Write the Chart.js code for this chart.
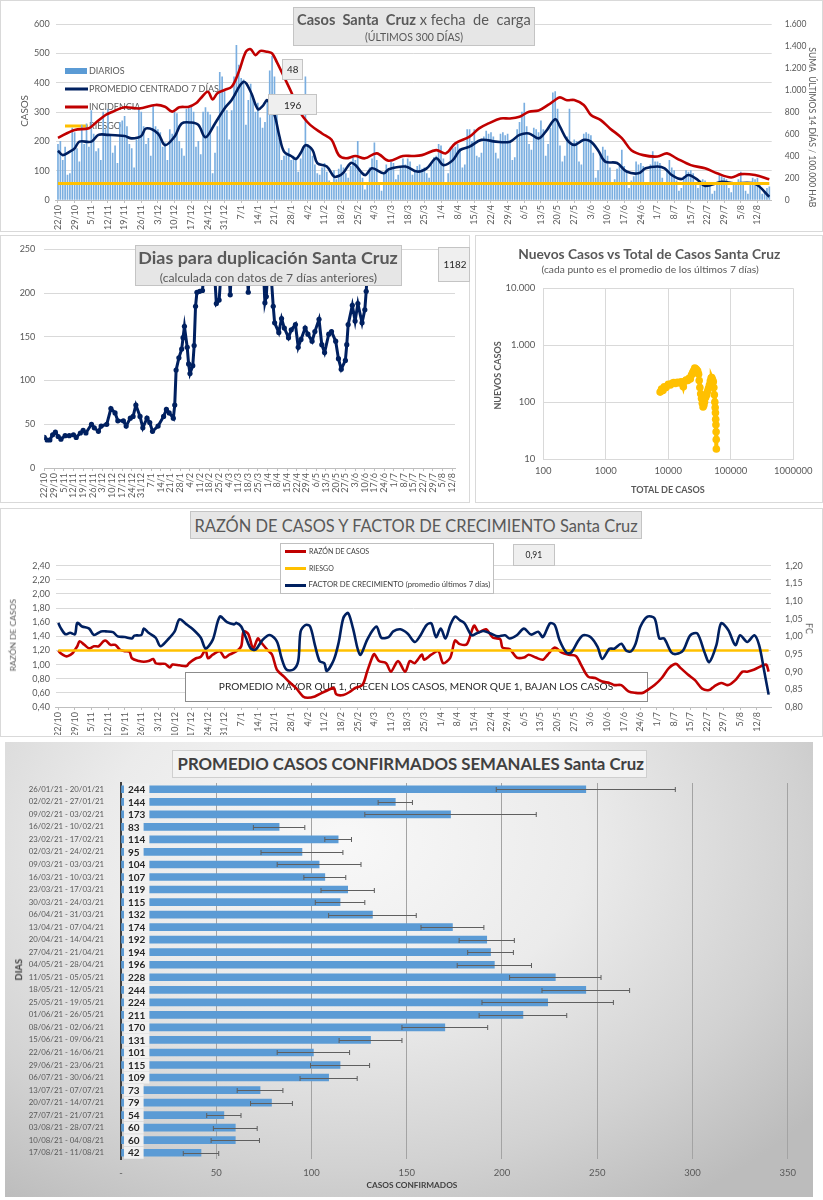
<!DOCTYPE html>
<html lang="es">
<head>
<meta charset="utf-8">
<title>Casos Santa Cruz</title>
<script src="https://cdn.jsdelivr.net/npm/chart.js@4.4.1/dist/chart.umd.min.js"></script>
<style>
  body { margin: 0; background: #fff; font-family: Lato, "Open Sans", sans-serif; width: 823px; height: 1200px; position: relative; overflow: hidden; }
  .panel { position: absolute; outline: 1px solid #d9d9d9; outline-offset: -1px; }
  .box { position: absolute; box-sizing: border-box; background: #e6e6e6; border: 1px solid #c4c4c4; }
  .txt { position: absolute; white-space: nowrap; color: #595959; line-height: 1; font-size: 12px; }
  .sw { position: absolute; height: 3px; }
</style>
</head>
<body>

<div class="panel" id="p1" style="left:0;top:0;width:823px;height:232px">
  <canvas id="c1"></canvas>
  <div class="box" style="left:293px;top:7px;width:242px;height:39px"></div>
  <div class="txt" data-cx="414" data-cy="20" data-w="234" style="font-size:17px"><b>Casos&nbsp; Santa&nbsp; Cruz</b> x fecha&nbsp; de&nbsp; carga</div>
  <div class="txt" data-cx="414" data-cy="37.5" data-w="98">(ÚLTIMOS 300 DÍAS)</div>
  <div class="box" style="left:282px;top:59px;width:21px;height:21px;background:#efefef"></div>
  <div class="txt" data-cx="292.5" data-cy="70" data-w="11.5" style="color:#262626">48</div>
  <div class="box" style="left:268px;top:94px;width:49px;height:21px;background:#efefef"></div>
  <div class="txt" data-cx="292.5" data-cy="105" data-w="17.5" style="color:#262626">196</div>
  <div class="txt" data-cx="25" data-cy="111" data-w="32" data-rot="-90">CASOS</div>
  <div class="txt" data-cx="812" data-cy="127" data-w="160" data-rot="90">SUMA&nbsp; ÚLTIMOS 14 DÍAS / 100.000 HAB</div>
</div>

<div class="panel" id="p2" style="left:0;top:235px;width:470px;height:268px">
  <canvas id="c2"></canvas>
  <div class="box" style="left:135px;top:10px;width:267px;height:41px"></div>
  <div class="txt" data-cx="268.3" data-cy="23" data-w="260" style="font-weight:bold">Dias para duplicación Santa Cruz</div>
  <div class="txt" data-cx="268.3" data-cy="43" data-w="217">(calculada con datos de 7 días anteriores)</div>
  <div class="box" style="left:438px;top:12px;width:32px;height:35px;background:#efefef"></div>
  <div class="txt" data-cx="455" data-cy="30" data-w="23" style="color:#262626">1182</div>
</div>

<div class="panel" id="p3" style="left:475px;top:235px;width:348px;height:268px">
  <canvas id="c3"></canvas>
  <div class="txt" data-cx="174.2" data-cy="19" data-w="262" style="font-weight:bold">Nuevos Casos vs Total de Casos Santa Cruz</div>
  <div class="txt" data-cx="175" data-cy="34" data-w="217">(cada punto es el promedio de los últimos 7 días)</div>
  <div class="txt" data-cx="193" data-cy="254" data-w="74" style="font-weight:bold">TOTAL DE CASOS</div>
  <div class="txt" data-cx="22.5" data-cy="140" data-w="68" data-rot="-90" style="font-weight:bold">NUEVOS CASOS</div>
</div>

<div class="panel" id="p4" style="left:0;top:508px;width:823px;height:229px">
  <canvas id="c4"></canvas>
  <div class="box" style="left:190px;top:3px;width:452px;height:28px"></div>
  <div class="txt" data-cx="416" data-cy="18" data-w="444">RAZÓN DE CASOS Y FACTOR DE CRECIMIENTO Santa Cruz</div>
  <div class="box" style="left:280px;top:35px;width:214px;height:51px;background:#fff;border-color:#bfbfbf"></div>
  <div class="sw" style="left:285px;top:41.5px;width:21px;background:#C00000"></div>
  <div class="txt" data-cx="339" data-cy="43" data-w="60" style="color:#404040">RAZÓN DE CASOS</div>
  <div class="sw" style="left:285px;top:58.5px;width:21px;background:#FFC000"></div>
  <div class="txt" data-cx="321.5" data-cy="60" data-w="25" style="color:#404040">RIESGO</div>
  <div class="sw" style="left:285px;top:75.5px;width:21px;background:#002060"></div>
  <div class="txt" data-cx="399.5" data-cy="77" data-w="182" style="color:#404040">FACTOR DE CRECIMIENTO (promedio últimos 7 días)</div>
  <div class="box" style="left:513px;top:36px;width:42px;height:22px;background:#efefef"></div>
  <div class="txt" data-cx="534" data-cy="47" data-w="17" style="color:#262626">0,91</div>
  <div class="txt" data-cx="12.5" data-cy="127" data-w="72" data-rot="-90">RAZÓN DE CASOS</div>
  <div class="txt" data-cx="808" data-cy="120" data-w="11" data-rot="90">FC</div>
</div>

<div class="panel" id="p5" style="left:5px;top:742px;width:808px;height:455px;outline:none;background:radial-gradient(ellipse 75% 95% at 42% 22%, #f8f8f8 0%, #ebebeb 40%, #d2d2d2 75%, #bcbcbc 100%)">
  <canvas id="c5"></canvas>
  <div class="box" style="left:167px;top:8px;width:475px;height:28px;background:#f3f3f3;border-color:#cfcfcf"></div>
  <div class="txt" data-cx="405.5" data-cy="22" data-w="467" style="font-weight:bold;color:#404040">PROMEDIO CASOS CONFIRMADOS SEMANALES Santa Cruz</div>
  <div class="txt" data-cx="407" data-cy="443" data-w="91" style="font-weight:bold;color:#404040">CASOS CONFIRMADOS</div>
  <div class="txt" data-cx="13.8" data-cy="227" data-w="22" data-rot="-90" style="font-weight:bold;color:#404040">DIAS</div>
</div>

<script>
// etiquetas semanales del eje de fechas (22/10/2020 a 12/08/2021)
const semanas = ['22/10','29/10','5/11','12/11','19/11','26/11','3/12','10/12','17/12','24/12','31/12','7/1','14/1','21/1','28/1','4/2','11/2','18/2','25/2','4/3','11/3','18/3','25/3','1/4','8/4','15/4','22/4','29/4','6/5','13/5','20/5','27/5','3/6','10/6','17/6','24/6','1/7','8/7','15/7','22/7','29/7','5/8','12/8'];

// casos diarios (un valor por dia desde 22/10)
const diarios = [
  190,200,135,180,85,90,245, 230,175,130,255,190,260,180, 305,225,165,175,135,300,240,
  310,220,160,185,125,265,270, 285,250,190,175,110,205,310, 300,250,190,210,150,320,250,
  240,230,180,195,135,240,225, 300,295,200,175,150,310,315, 320,300,180,200,155,300,315,
  300,290,90,160,250,435,420, 370,305,205,305,420,527,460, 415,410,255,340,395,350,300,
  330,280,245,265,340,440,490, 420,300,210,135,150,160,175, 135,150,145,95,140,180,420,
  190,180,150,120,90,85,110, 125,95,65,50,100,70,105, 120,110,90,75,115,145,135,
  200,90,75,35,60,110,140, 195,135,60,30,90,120,105, 130,125,70,85,110,140,120,
  140,130,85,100,115,120,105, 110,90,75,120,145,150,190, 185,140,60,90,180,175,180,
  190,175,110,120,240,240,200, 240,150,145,160,215,235,225, 230,215,160,140,225,230,220,
  225,200,135,145,240,265,300, 330,250,190,170,245,240,230, 270,240,150,190,245,365,370,
  310,185,130,150,215,310,190, 205,200,130,120,225,230,225, 220,160,75,100,160,180,170,
  150,110,55,70,105,115,170, 115,95,40,65,80,130,120, 125,115,55,60,120,165,130,
  130,125,75,60,100,135,110, 100,65,30,40,80,100,95, 100,90,55,40,65,70,65,
  55,50,20,30,60,85,80, 75,70,40,25,55,60,70, 95,60,30,20,55,75,70, 75,60,20,25,40,45
];

// promedio centrado 7 dias (dia, valor)
const promDia  = [0,2,5,7,9,14,17,21,28,31,35,37,42,45,49,52,56,59,62,66,70,73,78,81,84,86,88,91,93,95,98,100,102,104,107,109,113,116,118,120,123,125,129,132,137,139,146,151,155,159,162,166,169,173,178,184,190,194,198,202,205,209,211,214,217,221,224,227,230,235,239,244,247,252,255,258,262,265,269,272,279,284,293,299];
const promedio = [168,153,165,176,199,199,222,222,218,210,218,244,227,187,216,261,264,256,214,261,312,341,403,369,310,320,340,290,220,165,150,140,160,187,170,126,114,80,82,93,126,119,85,108,91,105,114,97,108,142,119,136,170,182,205,199,199,222,227,210,233,275,250,205,188,205,199,170,131,126,97,91,108,114,108,85,71,85,68,48,62,57,55,11];

// incidencia: suma ultimos 14 dias / 100.000 hab (eje derecho)
const incDia     = [0,7,13,16,20,23,28,34,41,45,48,51,55,58,60,63,65,67,70,73,76,79,81,83,85,88,90,92,95,98,101,103,106,111,115,118,121,125,129,134,139,145,149,153,159,163,167,173,177,181,186,190,194,198,202,206,209,211,214,217,221,224,228,232,237,241,246,252,256,260,266,272,277,283,287,293,299];
const incidencia = [565,637,653,704,773,803,843,832,864,848,803,843,848,880,925,984,915,971,1000,1029,1165,1349,1371,1317,1355,1347,1333,1253,1120,984,827,757,683,605,547,408,379,400,379,424,357,400,400,408,453,424,515,576,651,696,741,741,757,803,813,864,909,933,907,909,864,773,728,651,563,453,408,395,424,379,317,288,243,205,235,227,189];
const riesgoIncidencia = 150;

// dias para duplicacion
const dupDia = [0,2,4,6,8,10,12,15,18,21,23,26,28,30,34,36,39,41,45,48,51,53,57,59,62,64,66,69,71,74,76,78,82,86,88,90,93,94,95,97,99,100,101,103,104,105,107,108,109,110,112,114,117,121,124,126,129,132,134,136,140,145,147,149,153,157,159,160,162,165,166,169,171,173,176,178,181,183,185,188,190,193,195,198,200,202,205,207,210,212,214,217,218,219,222,224,226,229,231,232,234];
const dupVal = [35,32,32,38,41,36,33,37,37,38,35,40,43,40,50,46,42,48,50,68,63,54,54,48,57,59,72,59,46,57,52,42,48,59,67,63,57,72,112,126,136,149,162,138,119,108,117,140,185,201,202,203,260,270,188,192,260,255,198,265,280,260,201,262,275,258,189,196,255,185,166,155,171,160,149,158,164,138,147,160,153,145,156,170,141,132,153,156,145,125,113,123,141,164,186,168,188,166,181,202,260];

// nuevos casos vs total de casos (promedio 7 dias)
const totalCasos  = [7400,7800,8200,8600,9200,10000,10800,11500,12200,13000,14000,15000,16000,16800,17400,18200,19200,20500,21500,22500,23500,24500,25500,26500,27500,28500,29500,30500,31200,32000,33000,34000,35000,36000,37000,38000,39500,41000,42500,44000,45500,47000,48500,49500,51000,52500,53500,54500,55500,56200,56800,57300,57800,58200,58500,58700];
const nuevosCasos = [150,170,160,185,180,205,200,215,220,212,222,218,228,215,187,230,245,240,262,255,300,330,360,395,385,370,350,310,240,180,140,116,95,82,88,100,120,133,155,175,200,235,265,270,250,228,180,135,100,80,65,50,40,30,22,15];
const ticksTotal  = [100, 1000, 10000, 100000, 1000000];
const ticksNuevos = [10, 100, 1000, 10000];

// razon de casos (eje izq.) y factor de crecimiento (eje der.)
const rcDia = [0,1,3,4,6,7,8,9,11,13,15,17,19,20,22,24,26,28,30,31,34,36,38,40,41,43,45,47,48,51,54,55,58,60,62,63,65,68,70,72,75,77,78,80,82,84,85,88,90,92,95,97,100,103,105,108,111,113,116,117,120,123,125,128,130,132,133,135,138,140,143,146,148,150,153,154,157,160,162,165,167,169,172,175,177,180,183,186,187,190,193,196,198,201,204,206,209,212,215,218,220,223,226,229,232,234,237,240,243,246,248,251,254,257,260,262,265,268,271,274,276,279,282,285,288,290,293,296,298,299];
const razonCasos = [1.20,1.16,1.12,1.12,1.16,1.21,1.26,1.33,1.28,1.23,1.26,1.26,1.33,1.34,1.28,1.28,1.21,1.19,1.18,1.09,1.05,1.04,1.05,1.08,1.02,1.01,1.01,0.96,1.00,0.99,0.98,1.02,1.09,1.11,1.21,1.09,1.14,1.19,1.10,1.14,1.19,1.26,1.47,1.43,1.23,1.37,1.33,1.21,1.14,0.93,0.83,0.76,0.67,0.55,0.53,0.55,0.60,0.63,0.67,0.58,0.57,0.62,0.67,0.71,0.90,1.09,1.15,1.05,1.02,0.90,1.05,0.90,1.05,1.02,1.14,1.07,1.14,1.19,1.02,1.10,1.34,1.29,1.29,1.55,1.46,1.50,1.38,1.36,1.24,1.22,1.10,1.10,1.14,1.10,1.07,1.14,1.24,1.17,1.14,1.12,1.00,0.83,0.81,0.76,0.74,0.71,0.71,0.62,0.60,0.60,0.64,0.71,0.81,0.95,1.01,0.95,0.86,0.78,0.66,0.64,0.69,0.74,0.71,0.78,0.90,0.90,0.93,0.98,1.00,0.90];
const fcDia = [0,1,3,5,7,8,10,13,15,18,20,23,25,28,31,32,35,36,38,41,43,46,49,51,54,57,60,62,65,68,71,74,75,77,79,81,83,86,89,92,94,96,99,101,102,104,106,108,110,112,113,116,118,120,122,124,127,130,132,134,136,139,141,144,147,150,152,155,157,159,161,163,165,167,169,171,174,176,179,182,185,188,190,193,196,199,202,204,207,209,211,214,216,219,221,224,227,229,232,234,237,239,241,243,245,248,251,253,255,258,260,263,266,269,272,274,277,279,282,285,287,290,293,295,297,299];
const factorCrec = [1.038,1.024,1.006,1.010,1.006,1.038,1.028,1.022,1.004,1.014,1.014,1.012,1.000,0.998,0.994,1.002,1.004,1.022,1.010,0.996,0.972,0.990,1.014,1.048,1.034,1.018,0.996,0.966,0.990,1.056,1.040,1.034,1.038,1.028,0.996,0.966,0.962,0.990,1.004,0.986,0.938,0.906,0.906,0.930,1.014,1.032,1.028,0.976,0.930,0.924,0.902,0.934,0.982,1.052,1.066,1.024,0.948,0.990,1.014,1.028,0.996,0.998,1.014,1.020,1.008,0.984,0.998,1.032,1.037,0.998,1.022,0.994,1.032,1.056,1.046,1.037,1.003,1.008,1.015,1.008,1.000,1.003,0.994,1.003,1.022,1.005,1.013,0.998,1.037,1.032,0.989,0.953,0.955,0.989,1.003,0.998,0.970,0.936,0.965,0.965,0.979,0.960,0.957,0.979,1.027,1.056,1.051,0.994,0.994,0.955,0.950,0.960,1.003,1.008,0.955,0.927,0.975,1.037,1.018,0.975,1.003,0.984,1.003,0.975,0.907,0.835];
const riesgoRazon = 1.20;
const ticksRazon = [0.4,0.6,0.8,1.0,1.2,1.4,1.6,1.8,2.0,2.2,2.4];
const ticksFC = [0.80,0.85,0.90,0.95,1.00,1.05,1.10,1.15,1.20];

// promedio semanal de casos confirmados y su desvio
const semanasConf = ['26/01/21 - 20/01/21','02/02/21 - 27/01/21','09/02/21 - 03/02/21','16/02/21 - 10/02/21','23/02/21 - 17/02/21','02/03/21 - 24/02/21','09/03/21 - 03/03/21','16/03/21 - 10/03/21','23/03/21 - 17/03/21','30/03/21 - 24/03/21','06/04/21 - 31/03/21','13/04/21 - 07/04/21','20/04/21 - 14/04/21','27/04/21 - 21/04/21','04/05/21 - 28/04/21','11/05/21 - 05/05/21','18/05/21 - 12/05/21','25/05/21 - 19/05/21','01/06/21 - 26/05/21','08/06/21 - 02/06/21','15/06/21 - 09/06/21','22/06/21 - 16/06/21','29/06/21 - 23/06/21','06/07/21 - 30/06/21','13/07/21 - 07/07/21','20/07/21 - 14/07/21','27/07/21 - 21/07/21','03/08/21 - 28/07/21','10/08/21 - 04/08/21','17/08/21 - 11/08/21'];
const promSemanal = [244,144,173,83,114,95,104,107,119,115,132,174,192,194,196,228,244,224,211,170,131,101,115,109,73,79,54,60,60,42];
const desvio = [47,9,45,13.5,7,21.5,22,11,14,13,23,16.5,14.5,12,19.5,24,23,34.5,23,22.5,16.5,19,15.5,15,12,11,9,11.5,12.7,9.3];

Chart.defaults.font.family = 'Lato, "Open Sans", sans-serif';
Chart.defaults.color = '#595959';
Chart.defaults.animation = false;
Chart.defaults.plugins.legend.display = false;
Chart.defaults.plugins.tooltip.enabled = false;

const miles = v => String(v).replace(/\B(?=(\d{3})+(?!\d))/g, '.');
const coma = v => Number(v).toFixed(2).replace('.', ',');
const puntos = (xs, ys) => xs.map((x, i) => ({ x: x, y: ys[i] }));
const ultimoDia = diarios.length - 1;

function ejeFechas(min, max, alto) {
  return {
    type: 'linear', min: min, max: max, offset: false,
    afterBuildTicks: s => { s.ticks = semanas.map((_, i) => ({ value: i * 7 })); },
    afterFit: s => { s.height = alto; },
    ticks: { autoSkip: false, maxRotation: 90, minRotation: 90, padding: 2, font: { size: 9 }, callback: v => semanas[Math.round(v / 7)] },
    grid: { drawOnChartArea: false, color: '#bfbfbf', tickLength: 3, offset: false },
    border: { color: '#bfbfbf' }
  };
}

// leyenda dentro del area del grafico, por debajo de las lineas
const leyendaCasos = {
  id: 'leyendaCasos',
  beforeDatasetsDraw(chart) {
    const ctx = chart.ctx;
    const items = [
      ['DIARIOS', '#5B9BD5', 71, true],
      ['PROMEDIO CENTRADO 7 DÍAS', '#002060', 89],
      ['INCIDENCIA', '#C00000', 107],
      ['RIESGO', '#FFC000', 126]
    ];
    ctx.save();
    ctx.font = '9px Lato';
    ctx.textBaseline = 'middle';
    items.forEach(([txt, col, y, barra]) => {
      ctx.fillStyle = col;
      if (barra) ctx.fillRect(65, y - 3, 22, 6);
      else ctx.fillRect(65, y - 1.5, 23, 3);
      ctx.fillStyle = '#595959';
      ctx.fillText(txt, 89, y);
    });
    ctx.restore();
  }
};

new Chart(document.getElementById('c1'), {
  type: 'bar',
  data: {
    datasets: [
      { type: 'bar', label: 'DIARIOS', data: diarios.map((v, d) => ({ x: d, y: v })), backgroundColor: '#7aaee0', barThickness: 1, yAxisID: 'y', order: 4 },
      { type: 'line', label: 'PROMEDIO CENTRADO 7 DÍAS', data: puntos(promDia, promedio), borderColor: '#002060', borderWidth: 2.6, pointRadius: 0, tension: 0.35, yAxisID: 'y', order: 3 },
      { type: 'line', label: 'INCIDENCIA', data: puntos(incDia, incidencia), borderColor: '#C00000', borderWidth: 2.6, pointRadius: 0, tension: 0.35, yAxisID: 'y2', order: 2 },
      { type: 'line', label: 'RIESGO', data: [{ x: 0, y: riesgoIncidencia }, { x: ultimoDia, y: riesgoIncidencia }], borderColor: '#FFC000', borderWidth: 3, pointRadius: 0, yAxisID: 'y2', order: 1 }
    ]
  },
  options: {
    responsive: true, maintainAspectRatio: false,
    layout: { padding: { left: 12, right: 4, top: 24, bottom: 2 } },
    scales: {
      x: ejeFechas(-1, 300, 30),
      y: { min: 0, max: 600, afterFit: s => { s.width = 43.6; }, ticks: { stepSize: 100, padding: 6, font: { size: 9 } }, grid: { color: '#d9d9d9', drawTicks: false }, border: { display: false } },
      y2: { position: 'right', min: 0, max: 1600, afterFit: s => { s.width = 47.3; }, ticks: { stepSize: 200, padding: 5, font: { size: 8.5 }, callback: miles }, grid: { display: false }, border: { display: false } }
    }
  },
  plugins: [leyendaCasos]
});

new Chart(document.getElementById('c2'), {
  type: 'line',
  data: { datasets: [{ data: puntos(dupDia, dupVal), borderColor: '#002060', backgroundColor: '#002060', borderWidth: 3, pointRadius: 2.6, pointBorderWidth: 0, tension: 0 }] },
  options: {
    responsive: true, maintainAspectRatio: false,
    layout: { padding: { left: 0, right: 15, top: 10, bottom: 2 } },
    scales: {
      x: ejeFechas(0, 296, 33),
      y: { min: 0, max: 250, afterFit: s => { s.width = 44.3; }, ticks: { stepSize: 50, padding: 9, font: { size: 9 } }, grid: { color: '#d9d9d9', drawTicks: false }, border: { display: false } }
    }
  }
});

new Chart(document.getElementById('c3'), {
  type: 'scatter',
  data: { datasets: [{ data: puntos(totalCasos, nuevosCasos), backgroundColor: '#FFC000', borderColor: '#FFC000', pointRadius: 3.8, pointBorderWidth: 0, showLine: true, borderWidth: 4 }] },
  options: {
    responsive: true, maintainAspectRatio: false,
    layout: { padding: { left: 14, right: 29.7, top: 53.3, bottom: 9 } },
    scales: {
      x: { type: 'logarithmic', min: 100, max: 1000000, afterBuildTicks: s => { s.ticks = ticksTotal.map(v => ({ value: v })); }, afterFit: s => { s.height = 35; },
           ticks: { autoSkip: false, maxRotation: 0, padding: 6, font: { size: 9.5 }, callback: v => String(v) }, grid: { color: '#d9d9d9', drawTicks: false }, border: { color: '#d9d9d9' } },
      y: { type: 'logarithmic', min: 10, max: 10000, afterBuildTicks: s => { s.ticks = ticksNuevos.map(v => ({ value: v })); }, afterFit: s => { s.width = 54.3; },
           ticks: { autoSkip: false, padding: 8, font: { size: 9.5 }, callback: miles }, grid: { color: '#d9d9d9', drawTicks: false }, border: { color: '#d9d9d9' } }
    }
  }
});

// recuadro de texto por debajo de las lineas
const cajaPromedio = {
  id: 'cajaPromedio',
  beforeDatasetsDraw(chart) {
    const ctx = chart.ctx;
    const txt = 'PROMEDIO MAYOR QUE 1, CRECEN LOS CASOS, MENOR QUE 1, BAJAN LOS CASOS';
    ctx.save();
    ctx.fillStyle = '#fff';
    ctx.fillRect(185, 164, 462, 29);
    ctx.strokeStyle = '#8c8c8c';
    ctx.lineWidth = 1;
    ctx.strokeRect(185.5, 164.5, 462, 29);
    ctx.font = '12px Lato';
    const size = 12 * 395 / ctx.measureText(txt).width;
    ctx.font = size + 'px Lato';
    ctx.fillStyle = '#262626';
    ctx.textAlign = 'center';
    ctx.textBaseline = 'middle';
    ctx.fillText(txt, 416, 179);
    ctx.restore();
  }
};

new Chart(document.getElementById('c4'), {
  type: 'line',
  data: {
    datasets: [
      { label: 'RAZÓN DE CASOS', data: puntos(rcDia, razonCasos), borderColor: '#C00000', borderWidth: 2.6, pointRadius: 0, tension: 0.3, yAxisID: 'y', order: 3 },
      { label: 'RIESGO', data: [{ x: 0, y: riesgoRazon }, { x: ultimoDia, y: riesgoRazon }], borderColor: '#FFC000', borderWidth: 2.6, pointRadius: 0, yAxisID: 'y', order: 2 },
      { label: 'FACTOR DE CRECIMIENTO (promedio últimos 7 días)', data: puntos(fcDia, factorCrec), borderColor: '#002060', borderWidth: 2.6, pointRadius: 0, tension: 0.3, yAxisID: 'y2', order: 1 }
    ]
  },
  options: {
    responsive: true, maintainAspectRatio: false,
    layout: { padding: { left: 12, right: 4, top: 57.7, bottom: 2 } },
    scales: {
      x: ejeFechas(-1, 300, 28),
      y: { min: 0.4, max: 2.4, afterBuildTicks: s => { s.ticks = ticksRazon.map(v => ({ value: v })); }, afterFit: s => { s.width = 43.9; },
           ticks: { padding: 6, font: { size: 9 }, callback: coma }, grid: { color: '#d9d9d9', drawTicks: false }, border: { display: false } },
      y2: { position: 'right', min: 0.8, max: 1.2, afterBuildTicks: s => { s.ticks = ticksFC.map(v => ({ value: v })); }, afterFit: s => { s.width = 48; },
            ticks: { padding: 6, font: { size: 9 }, callback: coma }, grid: { display: false }, border: { display: false } }
    }
  },
  plugins: [cajaPromedio]
});

// barras de error y rotulos de valor
const barrasError = {
  id: 'barrasError',
  afterDatasetsDraw(chart) {
    const { ctx, scales: { x, y } } = chart;
    ctx.save();
    ctx.strokeStyle = '#5f5f5f';
    ctx.lineWidth = 1;
    promSemanal.forEach((v, i) => {
      const py = Math.round(y.getPixelForValue(i)) + 0.5;
      const x1 = x.getPixelForValue(v - desvio[i]);
      const x2 = x.getPixelForValue(v + desvio[i]);
      ctx.beginPath();
      ctx.moveTo(x1, py); ctx.lineTo(x2, py);
      ctx.moveTo(x1, py - 2.5); ctx.lineTo(x1, py + 2.5);
      ctx.moveTo(x2, py - 2.5); ctx.lineTo(x2, py + 2.5);
      ctx.stroke();
    });
    ctx.font = 'bold 10px Lato';
    ctx.textBaseline = 'middle';
    promSemanal.forEach((v, i) => {
      const py = y.getPixelForValue(i);
      const x0 = x.getPixelForValue(0) + 3;
      const txt = String(v);
      const w = ctx.measureText(txt).width + 8;
      ctx.fillStyle = '#f1f1f1';
      ctx.fillRect(x0, py - 6, w, 12);
      ctx.fillStyle = '#262626';
      ctx.fillText(txt, x0 + 4, py + 0.5);
    });
    ctx.restore();
  }
};

new Chart(document.getElementById('c5'), {
  type: 'bar',
  data: { labels: semanasConf, datasets: [{ data: promSemanal, backgroundColor: '#5B9BD5', barThickness: 7 }] },
  options: {
    indexAxis: 'y',
    responsive: true, maintainAspectRatio: false,
    layout: { padding: { left: 6, right: 25.3, top: 41, bottom: 0 } },
    scales: {
      x: { min: 0, max: 350, afterFit: s => { s.height = 38; },
           ticks: { stepSize: 50, padding: 8, font: { size: 9.5 }, callback: v => v === 0 ? '-' : v },
           grid: { color: c => (c.tick && c.tick.value === 0) ? 'rgba(0,0,0,0)' : '#a3a3a3', drawTicks: false }, border: { display: false } },
      y: { afterFit: s => { s.width = 110; }, ticks: { autoSkip: false, padding: 9, font: { size: 7.8 } }, grid: { display: false }, border: { color: '#404040', width: 2 } }
    }
  },
  plugins: [barrasError]
});

// ajustar textos superpuestos al ancho medido en la referencia
document.querySelectorAll('[data-w]').forEach(el => {
  const fs = parseFloat(getComputedStyle(el).fontSize);
  el.style.fontSize = (fs * (+el.dataset.w) / el.offsetWidth) + 'px';
  el.style.left = (+el.dataset.cx - el.offsetWidth / 2) + 'px';
  el.style.top = (+el.dataset.cy - el.offsetHeight / 2) + 'px';
  if (el.dataset.rot) el.style.transform = 'rotate(' + el.dataset.rot + 'deg)';
});
</script>
</body>
</html>
